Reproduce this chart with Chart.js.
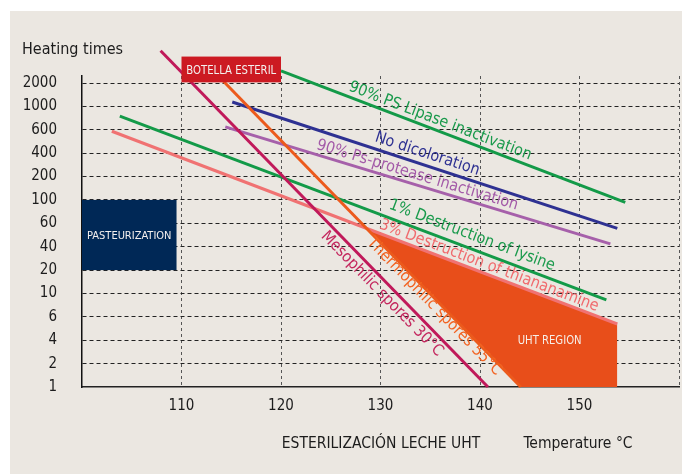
<!DOCTYPE html>
<html lang="en">
<head>
<meta charset="UTF-8">
<title>Heating times vs temperature</title>
<script src="https://cdn.jsdelivr.net/npm/chart.js"></script>
<style>
  body { margin: 0; background: #fff; }
  #panel { position: absolute; left: 10px; top: 11px; width: 672px; height: 463px; background: #ebe7e1; }
</style>
</head>
<body>
<div id="panel"><canvas id="uhtChart" width="672" height="463"></canvas></div>
<script>
// heating time scale, uneven steps as printed
const timeTicks = [1, 2, 4, 6, 10, 20, 40, 60, 100, 200, 400, 600, 1000, 2000];

// each curve: temperature (°C) and heating time at both ends
const mesophilicTemps = [107.9, 140.8];
const mesophilicTimes = [5200, 1];
const thermophilicTemps = [113.7, 144.1];
const thermophilicTimes = [2460, 1];
const lipaseTemps = [120.0, 154.6];
const lipaseTimes = [2870, 95];
const colorTemps = [115.1, 153.8];
const colorTimes = [1140, 55];
const proteaseTemps = [114.4, 153.1];
const proteaseTimes = [640, 42];
const lysineTemps = [103.8, 152.7];
const lysineTimes = [810, 8.7];
const thiamineTemps = [103.0, 153.8];
const thiamineTimes = [585, 5.3];

// UHT region: upper edge and lower edge
const uhtTopTemps = [128.4, 153.8];
const uhtTopTimes = [55.8, 5.3];
const uhtLowTemps = [128.4, 144.1, 153.8];
const uhtLowTimes = [55.8, 1, 1];

// boxes
const pasteurTemps = [100, 109.5];
const pasteurTimes = [20, 100];
const botellaTemps = [110, 120];
const botellaTimes = [2040, 4380];

const FONT = '"DejaVu Sans Condensed", "Liberation Sans Narrow", sans-serif';

// position of a heating time on the printed (uneven) scale
function toAxis(v) {
    let i = 0;
    while (i < timeTicks.length - 2 && v > timeTicks[i + 1]) i++;
    return i + Math.log(v / timeTicks[i]) / Math.log(timeTicks[i + 1] / timeTicks[i]);
}
function pts(temps, times) {
    return temps.map((t, i) => ({ x: t, y: toAxis(times[i]) }));
}
function line(temps, times, color) {
    return { data: pts(temps, times), borderColor: color, borderWidth: 3, pointRadius: 0, fill: false, clip: false, order: 0 };
}

const curveLabels = [
    { text: 'Mesophilic spores 30°C', temp: 130.15, time: 9.9, color: '#c4275e', along: 0 },
    { text: 'Thermophilic spores 55°C', temp: 135.4, time: 7.5, color: '#f26322', along: 1 },
    { text: '90% PS Lipase inactivation', temp: 136.0, time: 725, color: '#1a9a4c', along: 2 },
    { text: 'No dicoloration', temp: 134.7, time: 389, color: '#2e3192', along: 3 },
    { text: '90% Ps-protease inactivation', temp: 133.7, time: 208, color: '#a35aa8', along: 4 },
    { text: '1% Destruction of lysine', temp: 139.2, time: 48.6, color: '#1a9a4c', along: 5 },
    { text: '3% Destruction of thiananamine', temp: 140.9, time: 22.8, color: '#f06b6e', along: 6 }
];

const extras = {
    id: 'extras',
    afterDatasetsDraw(chart) {
        const { ctx, scales: { x, y } } = chart;
        const px = t => x.getPixelForValue(t);
        const py = v => y.getPixelForValue(toAxis(v));

        // boxes
        const box = (temps, times, fill, text, size, maxW) => {
            const x0 = px(temps[0]), x1 = px(temps[1]);
            const y0 = py(times[1]), y1 = py(times[0]);
            ctx.fillStyle = fill;
            ctx.fillRect(x0, y0, x1 - x0, y1 - y0);
            ctx.fillStyle = '#f4f0ee';
            ctx.font = size + 'px ' + FONT;
            ctx.textAlign = 'center';
            ctx.textBaseline = 'middle';
            ctx.fillText(text, (x0 + x1) / 2, (y0 + y1) / 2 + 1, maxW);
        };
        box(pasteurTemps, pasteurTimes, '#002856', 'PASTEURIZATION', 11, 88);
        box(botellaTemps, botellaTimes, '#cc1a22', 'BOTELLA ESTERIL', 13, 90);

        // rotated curve labels
        curveLabels.forEach(l => {
            const d = chart.data.datasets[l.along].data;
            const a = Math.atan2(y.getPixelForValue(d[1].y) - y.getPixelForValue(d[0].y),
                                 x.getPixelForValue(d[1].x) - x.getPixelForValue(d[0].x));
            ctx.save();
            ctx.translate(px(l.temp), py(l.time));
            ctx.rotate(a);
            ctx.fillStyle = l.color;
            ctx.font = '16px ' + FONT;
            ctx.textAlign = 'center';
            ctx.textBaseline = 'middle';
            ctx.fillText(l.text, 0, 0);
            ctx.restore();
        });

        ctx.fillStyle = '#f6eee8';
        ctx.font = '12px ' + FONT;
        ctx.textAlign = 'center';
        ctx.textBaseline = 'middle';
        ctx.fillText('UHT REGION', px(147.0), py(3.92), 64);

        // titles
        ctx.fillStyle = '#1c1c1c';
        ctx.font = '16px ' + FONT;
        ctx.textAlign = 'left';
        ctx.fillText('Heating times', 12, 39);
        ctx.font = '15.5px ' + FONT;
        ctx.textAlign = 'center';
        ctx.fillText('ESTERILIZACIÓN LECHE UHT', 371, 433);
        ctx.fillText('Temperature °C', 568, 433);
    }
};

new Chart(document.getElementById('uhtChart'), {
    type: 'line',
    data: {
        datasets: [
            line(mesophilicTemps, mesophilicTimes, '#c0195a'),
            line(thermophilicTemps, thermophilicTimes, '#ec5a1c'),
            line(lipaseTemps, lipaseTimes, '#139a48'),
            line(colorTemps, colorTimes, '#2e3192'),
            line(proteaseTemps, proteaseTimes, '#a660aa'),
            line(lysineTemps, lysineTimes, '#139a48'),
            line(thiamineTemps, thiamineTimes, '#f07272'),
            { data: pts(uhtTopTemps, uhtTopTimes), borderWidth: 0, pointRadius: 0, backgroundColor: '#e84e1a', fill: '+1', order: 1 },
            { data: pts(uhtLowTemps, uhtLowTimes), borderWidth: 0, pointRadius: 0, fill: false, order: 1 }
        ]
    },
    options: {
        responsive: false,
        animation: false,
        layout: { padding: { top: 65, right: 3, left: 0, bottom: 0 } },
        plugins: { legend: { display: false }, tooltip: { enabled: false } },
        scales: {
            x: {
                type: 'linear',
                min: 100,
                max: 160,
                afterFit: s => { s.height = 87; s.paddingLeft = 0; s.paddingRight = 0; },
                ticks: {
                    stepSize: 10,
                    padding: 10,
                    color: '#1c1c1c',
                    font: { family: FONT, size: 15 },
                    callback: v => (v === 100 || v === 160) ? '' : v
                },
                grid: {
                    drawTicks: false,
                    color: c => c.tick && c.tick.value === 100 ? 'rgba(0,0,0,0)' : '#555',
                    lineWidth: 1
                },
                border: { display: true, color: '#222', width: 1.5, dash: [3, 3] }
            },
            y: {
                type: 'linear',
                min: 0,
                max: 13.3,
                afterFit: s => { s.width = 72; s.paddingTop = 0; s.paddingBottom = 0; },
                afterBuildTicks: s => { s.ticks = timeTicks.map((v, i) => ({ value: i })); },
                ticks: {
                    autoSkip: false,
                    padding: 25,
                    color: '#1c1c1c',
                    font: { family: FONT, size: 15 },
                    callback: (v, i) => timeTicks[i]
                },
                grid: {
                    drawTicks: false,
                    color: c => c.tick && c.tick.value === 0 ? 'rgba(0,0,0,0)' : '#222',
                    lineWidth: 1
                },
                border: { display: true, color: '#111', width: 1.5, dash: [4, 3] }
            }
        }
    },
    plugins: [extras]
});
</script>
</body>
</html>
